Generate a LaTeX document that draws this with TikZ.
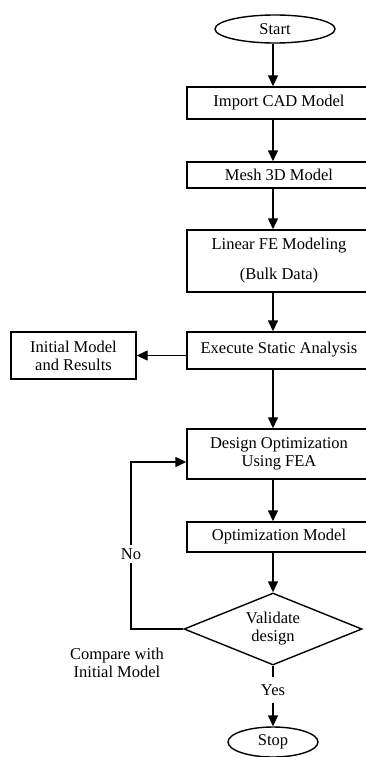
\documentclass[tikz,border=0pt]{standalone}
\usepackage{fontspec}
\setmainfont{Liberation Serif}
\usetikzlibrary{arrows.meta,shapes,positioning,calc}

\begin{document}
\begin{tikzpicture}[x=1pt,y=-1pt,line width=1.4pt,>={Triangle[width=10pt,length=11pt]},font=\fontsize{16.5}{18}\selectfont,align=center,
   stepbox/.style={draw,rectangle,minimum width=184pt,inner sep=2pt},
   termbox/.style={draw,ellipse,inner sep=0pt},
   decbox/.style={draw,diamond,aspect=2.47,minimum width=178pt,minimum height=72pt,inner sep=0pt},
   lbl/.style={fill=white,inner sep=4pt}]
   \useasboundingbox (0,0) rectangle (366,757);
   \coordinate (spine) at (273,0);
   % terminals and steps
   \node (start) at (275,29) [termbox,minimum width=120pt,minimum height=28pt] {Start};
   \node (cad) at (279,103) [stepbox,minimum height=32pt] {Import CAD Model};
   \node (mesh) at (279,175) [stepbox,minimum height=26pt] {Mesh 3D Model};
   \node (fe) at (279,261) [stepbox,minimum height=62pt] {Linear FE Modeling\\[12pt](Bulk Data)};
   \node (exec) at (279,350.5) [stepbox,minimum height=37pt] {\raisebox{5pt}{Execute Static Analysis}};
   \node (init) at (73.5,355.5) [draw,rectangle,minimum width=125pt,minimum height=47pt,inner sep=2pt] {Initial Model\\and Results};
   \node (design) at (279,454) [stepbox,minimum height=50pt] {Design Optimization\\Using FEA};
   \node (optm) at (279,537) [stepbox,minimum height=30pt] {Optimization Model};
   \node (valid) at (273,629) [decbox] {Validate\\design};
   \node (stop) at (273,742) [termbox,minimum width=90pt,minimum height=30pt] {Stop};
   \node (cmp) at (117,663) {Compare with\\Initial Model};
   % connectors
   \draw[->] (spine |- start.south) -- (spine |- cad.north);
   \draw[->] (spine |- cad.south) -- (spine |- mesh.north);
   \draw[->] (spine |- mesh.south) -- (spine |- fe.north);
   \draw[->] (spine |- fe.south) -- (spine |- exec.north);
   \draw[->] (exec.west |- init.east) -- (init.east);
   \draw[->] (spine |- exec.south) -- (spine |- design.north);
   \draw[->] (spine |- design.south) -- (spine |- optm.north);
   \draw[->] (spine |- optm.south) -- (valid.north);
   \coordinate (loop) at (131,462);
   \draw[->] (valid.west) -| (loop) -- (design.west |- loop);
   \node (no) at (131,554) [lbl] {No};
   \draw[->] (valid.south) -- (stop.north);
   \node (yes) at (273,690) [lbl,inner ysep=8pt] {Yes};
\end{tikzpicture}
\end{document}
